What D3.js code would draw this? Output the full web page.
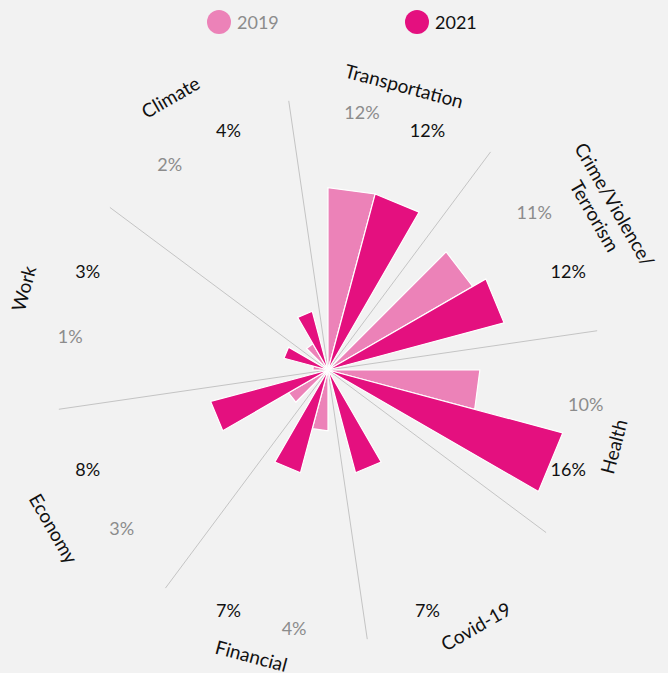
<!DOCTYPE html>
<html>
<head>
<meta charset="utf-8">
<script src="https://cdn.jsdelivr.net/npm/d3@7"></script>
<style>
  html, body { margin: 0; padding: 0; background: #f2f2f2; }
  svg { display: block; font-family: Lato, "Noto Sans", sans-serif; }
</style>
</head>
<body>
<svg id="drawing_region"></svg>
<script>
const categories = [ "Transportation", "Crime/Violence/Terrorism", "Health", "Covid-19", "Financial", "Economy", "Work", "Climate" ];
const years = [ "2019", "2021" ];
const values2019 = [ 12, 11, 10, null, 4, 3, 1, 2 ];
const values2021 = [ 12, 12, 16, 7, 7, 8, 3, 4 ];

const width = 668, height = 673;
const cx = 328, cy = 370;
const colors = { "2019": "#ec82b8", "2021": "#e4107f" };
const textColors = { "2019": "#8c8c8c", "2021": "#111111" };

const svg = d3.select( '#drawing_region' )
    .attr( 'width', width )
    .attr( 'height', height );

svg.append( 'rect' )
    .attr( 'width', width )
    .attr( 'height', height )
    .attr( 'fill', '#f2f2f2' );

const chart = svg.append( 'g' )
    .attr( 'transform', `translate(${cx}, ${cy})` );

// angles in degrees, clockwise from north
const aScale = d3.scaleBand()
    .domain( categories )
    .range( [ 0, 360 ] );

const subScale = d3.scaleBand()
    .domain( years )
    .range( [ 0, aScale.bandwidth() * 2 / 3 ] );

const rScale = d3.scaleLinear()
    .domain( [ 0, 16 ] )
    .range( [ 0, 243 ] );

const rad = a => a * Math.PI / 180;
const px = ( r, a ) => r * Math.sin( rad( a ) );
const py = ( r, a ) => -r * Math.cos( rad( a ) );

// spokes
const spokeOffset = -8.3;
chart.selectAll( 'line.spoke' )
    .data( categories )
    .join( 'line' )
    .attr( 'class', 'spoke' )
    .attr( 'x1', 0 ).attr( 'y1', 0 )
    .attr( 'x2', d => px( 272, aScale( d ) + spokeOffset ) )
    .attr( 'y2', d => py( 272, aScale( d ) + spokeOffset ) )
    .attr( 'stroke', '#c4c4c4' )
    .attr( 'stroke-width', 1 );

// bars
const bars = [];
categories.forEach( ( c, i ) => {
    bars.push( { cat: c, year: "2019", value: values2019[i] } );
    bars.push( { cat: c, year: "2021", value: values2021[i] } );
} );
const barData = bars.filter( d => d.value != null );

const wedge = d => {
    const a0 = aScale( d.cat ) + subScale( d.year );
    const a1 = a0 + subScale.bandwidth();
    const r = rScale( d.value );
    return `M0,0L${px( r, a0 )},${py( r, a0 )}L${px( r, a1 )},${py( r, a1 )}Z`;
};

chart.selectAll( 'path.bar' )
    .data( barData )
    .join( 'path' )
    .attr( 'class', 'bar' )
    .attr( 'd', wedge )
    .attr( 'fill', d => colors[d.year] )
    .attr( 'stroke', '#ffffff' )
    .attr( 'stroke-width', 1.2 )
    .attr( 'stroke-linejoin', 'miter' );

// value labels
chart.selectAll( 'text.value' )
    .data( barData )
    .join( 'text' )
    .attr( 'class', 'value' )
    .attr( 'x', d => px( 260, aScale( d.cat ) + subScale( d.year ) + subScale.bandwidth() / 2 ) )
    .attr( 'y', d => py( 260, aScale( d.cat ) + subScale( d.year ) + subScale.bandwidth() / 2 ) )
    .attr( 'text-anchor', 'middle' )
    .attr( 'dominant-baseline', 'central' )
    .attr( 'font-size', 18 )
    .attr( 'fill', d => textColors[d.year] )
    .text( d => d.value + '%' );

// category labels
const splitName = c => c.length > 16
    ? [ c.slice( 0, c.lastIndexOf( '/' ) + 1 ), c.slice( c.lastIndexOf( '/' ) + 1 ) ]
    : [ c ];
const catAngle = c => aScale( c ) + subScale.bandwidth();
const catLabel = chart.selectAll( 'text.cat' )
    .data( categories )
    .join( 'text' )
    .attr( 'class', 'cat' )
    .attr( 'transform', c => {
        const a = catAngle( c );
        const r = ( a < 220 ? 295 : 316 ) + ( splitName( c ).length - 1 ) * 14;
        const rot = ( a > 90 && a < 270 ) ? a - 180 : a;
        return `translate(${px( r, a )}, ${py( r, a )}) rotate(${rot})`;
    } )
    .attr( 'text-anchor', 'middle' )
    .attr( 'dominant-baseline', 'central' )
    .attr( 'font-size', 19 )
    .attr( 'fill', '#111111' );

catLabel.each( function( c ) {
    const parts = splitName( c );
    d3.select( this ).selectAll( 'tspan' )
        .data( parts )
        .join( 'tspan' )
        .attr( 'x', 0 )
        .attr( 'y', ( d, i ) => ( i - ( parts.length - 1 ) ) * 23 )
        .text( d => d );
} );

// legend
const legend = svg.append( 'g' );
const legendX = d3.scaleOrdinal().domain( years ).range( [ 219, 417 ] );
legend.selectAll( 'circle' )
    .data( years )
    .join( 'circle' )
    .attr( 'cx', d => legendX( d ) )
    .attr( 'cy', 22 )
    .attr( 'r', 12 )
    .attr( 'fill', d => colors[d] );
legend.selectAll( 'text' )
    .data( years )
    .join( 'text' )
    .attr( 'x', d => legendX( d ) + 18 )
    .attr( 'y', 22 )
    .attr( 'dominant-baseline', 'central' )
    .attr( 'font-size', 18 )
    .attr( 'fill', d => textColors[d] )
    .text( d => d );
</script>
</body>
</html>
